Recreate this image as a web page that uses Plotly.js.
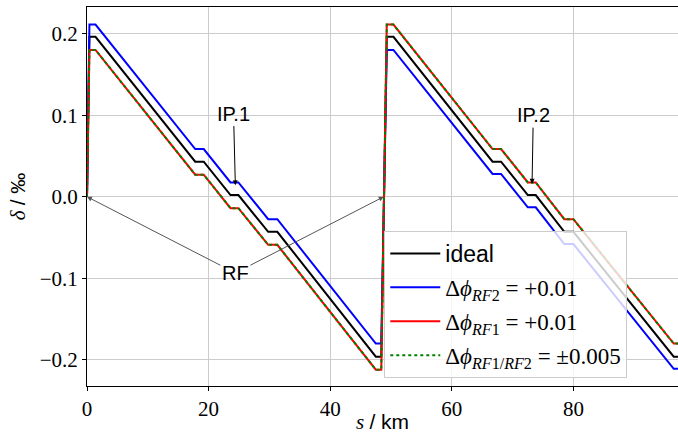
<!DOCTYPE html>
<html>
<head>
<meta charset="utf-8">
<script src="https://cdn.plot.ly/plotly-3.0.1.min.js"></script>
<style>html,body{margin:0;padding:0;background:#fff;}</style>
</head>
<body>
<div id="chart" style="width:678px;height:434px;"></div>
<script>
// positions along the ring, s / km
const sKm = [0, 0.4, 1.4, 17.8, 19.2, 23.6, 24.9, 29.8, 31.3, 47.5, 48.4, 49.3, 50.4, 66.7, 68.1, 72.5, 73.8, 78.5, 80.0, 96.5, 97.2];
// energy deviation delta / permille
const deltaIdeal = [0, 0.196, 0.196, 0.043, 0.043, 0.002, 0.002, -0.043, -0.043, -0.196, -0.196, 0.196, 0.196, 0.043, 0.043, 0.002, 0.002, -0.043, -0.043, -0.196, -0.196];
const deltaRF2 = [0, 0.211, 0.211, 0.0585, 0.0585, 0.0175, 0.0175, -0.0275, -0.0275, -0.180, -0.180, 0.180, 0.180, 0.028, 0.028, -0.013, -0.013, -0.058, -0.058, -0.211, -0.211];
const deltaRF1 = [0, 0.180, 0.180, 0.027, 0.027, -0.014, -0.014, -0.059, -0.059, -0.212, -0.212, 0.211, 0.211, 0.0585, 0.0585, 0.0175, 0.0175, -0.0275, -0.0275, -0.180, -0.180];
const deltaRF12 = [0, 0.180, 0.180, 0.027, 0.027, -0.014, -0.014, -0.059, -0.059, -0.212, -0.212, 0.211, 0.211, 0.0585, 0.0585, 0.0175, 0.0175, -0.0275, -0.0275, -0.180, -0.180];

const SERIF = '"Times New Roman", "Liberation Serif", "DejaVu Serif", serif';
const SANS = '"Liberation Sans", Arial, sans-serif';

const seriesNames = [
  '<span style="font-family:\'Liberation Sans\', Arial, sans-serif">ideal</span>',
  'Δ<i>ϕ</i><sub><i>RF</i>2</sub> = +0.01',
  'Δ<i>ϕ</i><sub><i>RF</i>1</sub> = +0.01',
  'Δ<i>ϕ</i><sub><i>RF</i>1/<i>RF</i>2</sub> = ±0.005'
];
const xTicks = [0, 20, 40, 60, 80];
const yTicks = [-0.2, -0.1, 0, 0.1, 0.2];

// annotation anchor points (data coordinates)
const ipLabels = ['IP.1', 'IP.2'];
const ipHeadS = [24.4, 73.2];
const ipHeadD = [0.014, 0.016];
const ipTextS = [24.1, 73.4];
const ipTextD = [0.102, 0.100];
const rfLabel = 'RF';
const rfTextS = 24.4, rfTextD = -0.0934;
const rfHeadS = [0, 48.8];
const rfHeadD = [0, 0];

const traces = [
  {x: sKm, y: deltaIdeal, name: seriesNames[0], legendgroup: 'a', mode: 'lines', line: {color: '#000000', width: 2}},
  {x: sKm, y: deltaRF2, name: seriesNames[1], legendgroup: 'b', mode: 'lines', line: {color: '#0000ff', width: 2}},
  {x: sKm, y: deltaRF1, name: seriesNames[2], legendgroup: 'c', mode: 'lines', line: {color: '#ff0000', width: 2}},
  {x: sKm, y: deltaRF12, name: seriesNames[3], legendgroup: 'd', mode: 'lines', line: {color: '#008000', width: 2, dash: 'dot'}}
];

const annotations = [];
for (let i = 0; i < ipLabels.length; i++) {
  annotations.push({
    x: ipHeadS[i], y: ipHeadD[i], ax: ipTextS[i], ay: ipTextD[i],
    xref: 'x', yref: 'y', axref: 'x', ayref: 'y',
    text: ipLabels[i], showarrow: true, arrowhead: 2, arrowsize: 1, arrowwidth: 1,
    arrowcolor: '#000000', font: {family: SANS, size: 20, color: '#000'}
  });
}
for (let i = 0; i < rfHeadS.length; i++) {
  annotations.push({
    x: rfHeadS[i], y: rfHeadD[i], ax: rfTextS, ay: rfTextD,
    xref: 'x', yref: 'y', axref: 'x', ayref: 'y',
    text: rfLabel, showarrow: true, arrowhead: 2, arrowsize: 1, arrowwidth: 1,
    arrowcolor: '#555555',
    font: {family: SANS, size: 20, color: i === 0 ? '#000' : 'rgba(0,0,0,0)'}
  });
}

const layout = {
  width: 678, height: 434,
  margin: {l: 87, r: 0, t: 7, b: 48},
  paper_bgcolor: '#ffffff', plot_bgcolor: '#ffffff',
  showlegend: true,
  legend: {
    x: 0.503, y: 0.409, xanchor: 'left', yanchor: 'top',
    bgcolor: 'rgba(255,255,255,0.8)', bordercolor: '#cccccc', borderwidth: 1,
    font: {family: SERIF, size: 23, color: '#000'},
    itemwidth: 50, tracegroupgap: 1
  },
  xaxis: {
    range: [0, 97.2], tickvals: xTicks, ticks: 'outside', ticklen: 4, tickcolor: '#000',
    showline: true, mirror: true, linecolor: '#000', linewidth: 1,
    showgrid: true, gridcolor: '#cccccc', gridwidth: 1, zeroline: false,
    tickfont: {family: SERIF, size: 21, color: '#000'},
    title: {text: '<i>s</i> <span style="font-family:\'Liberation Sans\', Arial, sans-serif">/ km</span>',
            font: {family: SERIF, size: 21, color: '#000'}, standoff: 4}
  },
  yaxis: {
    range: [-0.232, 0.2326], tickvals: yTicks, tickformat: '.1f', ticks: 'outside', ticklen: 4, tickcolor: '#000',
    showline: true, mirror: false, linecolor: '#000', linewidth: 1,
    showgrid: true, gridcolor: '#cccccc', gridwidth: 1, zeroline: false,
    tickfont: {family: SERIF, size: 21, color: '#000'},
    title: {text: '<i>δ</i> <span style="font-family:\'Liberation Sans\', Arial, sans-serif">/ ‰</span>',
            font: {family: SERIF, size: 21, color: '#000'}, standoff: 8}
  },
  annotations: annotations
};

Plotly.newPlot('chart', traces, layout, {displayModeBar: false, staticPlot: true});
</script>
</body>
</html>
